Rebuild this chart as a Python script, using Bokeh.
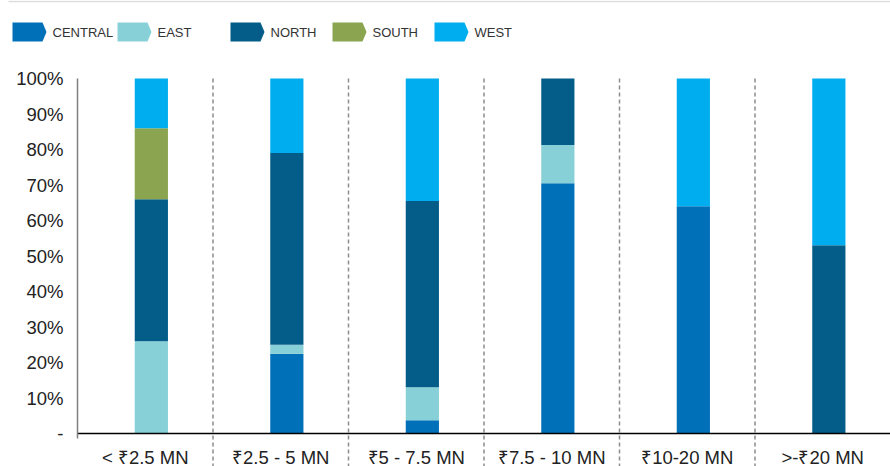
from bokeh.plotting import figure
from bokeh.models import Range1d, FixedTicker
from bokeh.embed import file_html
from bokeh.resources import INLINE
from bokeh.core.properties import value

categories = ["< ₹2.5 MN", "₹2.5 - 5 MN", "₹5 - 7.5 MN", "₹7.5 - 10 MN", "₹10-20 MN", ">-₹20 MN"]
regions = ["CENTRAL", "EAST", "NORTH", "SOUTH", "WEST"]
central = [0, 22.5, 3.7, 70.5, 64, 0]
east = [26, 2.5, 9.3, 10.8, 0, 0]
north = [40, 54, 52.5, 18.7, 0, 53]
south = [20, 0, 0, 0, 0, 0]
west = [14, 21, 34.5, 0, 36, 47]
colors = ["#0070B9", "#87D0D7", "#035D88", "#8AA44F", "#00AEEF"]
y_ticks = [0, 10, 20, 30, 40, 50, 60, 70, 80, 90, 100]

FONT = "Liberation Sans"
W, H = 890, 466
LEFT = 77            # canvas x of the value axis
Y_TOP, Y_ZERO = 78, 433   # canvas y of 100 % and of 0 %
N = len(categories)
XSTEP = (W - LEFT) / N
YSTEP = (Y_ZERO - Y_TOP) / 100.0


def dx(px):
    return (px - LEFT) / XSTEP


def dy(py):
    return (Y_ZERO - py) / YSTEP


p = figure(width=W, height=H, x_range=Range1d(dx(0), dx(W)), y_range=Range1d(dy(H), dy(0)),
           output_backend="svg", toolbar_location=None, min_border=0,
           min_border_left=0, min_border_right=0, min_border_top=0, min_border_bottom=0)
p.outline_line_color = None
p.grid.visible = False

centers = [i + 0.5 for i in range(N)]
data = {"x": [c + 0.045 for c in centers], "CENTRAL": central, "EAST": east,
        "NORTH": north, "SOUTH": south, "WEST": west}
p.vbar_stack(regions, x="x", width=0.245, color=colors, line_color=None, source=data)

# dashed separators between categories
bounds_x = list(range(1, N))
p.segment(x0=bounds_x, y0=[100] * len(bounds_x), x1=bounds_x, y1=[dy(H)] * len(bounds_x),
          line_color="#8c8c8c", line_width=1.5, line_dash="4 3")

ya = p.yaxis[0]
ya.fixed_location = 0
ya.ticker = FixedTicker(ticks=y_ticks)
ya.major_label_overrides = {t: ("-" if t == 0 else f"{t}%") for t in y_ticks}
ya.bounds = (-1.5, 100)
ya.axis_line_color = "#7f7f7f"
ya.axis_line_width = 1.5
ya.major_tick_line_color = None
ya.minor_tick_line_color = None
ya.major_label_standoff = 8
ya.major_label_text_font = FONT
ya.major_label_text_font_size = "18.5px"
ya.major_label_text_color = "#222222"

xa = p.xaxis[0]
xa.fixed_location = 0
xa.ticker = FixedTicker(ticks=centers)
xa.major_label_overrides = {c: cat for c, cat in zip(centers, categories)}
xa.bounds = (0, N)
xa.axis_line_color = "#000000"
xa.axis_line_width = 1.5
xa.major_tick_line_color = None
xa.minor_tick_line_color = None
xa.major_label_standoff = 7
xa.major_label_text_font = FONT
xa.major_label_text_font_size = "18.5px"
xa.major_label_text_color = "#222222"

# ---------- legend (top strip) ----------
p.segment(x0=[dx(8)], y0=[dy(1)], x1=[dx(W)], y1=[dy(1)], line_color="#dcdcdc", line_width=1.5)
leg_x = [12, 117, 230, 332, 434]
for name, col, x0 in zip(regions, colors, leg_x):
    p.patch(x=[dx(x0), dx(x0 + 30), dx(x0 + 34), dx(x0 + 30), dx(x0)],
            y=[dy(22), dy(22), dy(31.5), dy(41), dy(41)],
            fill_color=col, line_color=None)
    p.text(x=[dx(x0 + 40)], y=[dy(32)], text=[name], text_baseline="middle",
           text_align="left", text_font=value(FONT), text_font_size="13px",
           text_color="#333333")

open("out.html", "w").write(file_html(p, INLINE))
